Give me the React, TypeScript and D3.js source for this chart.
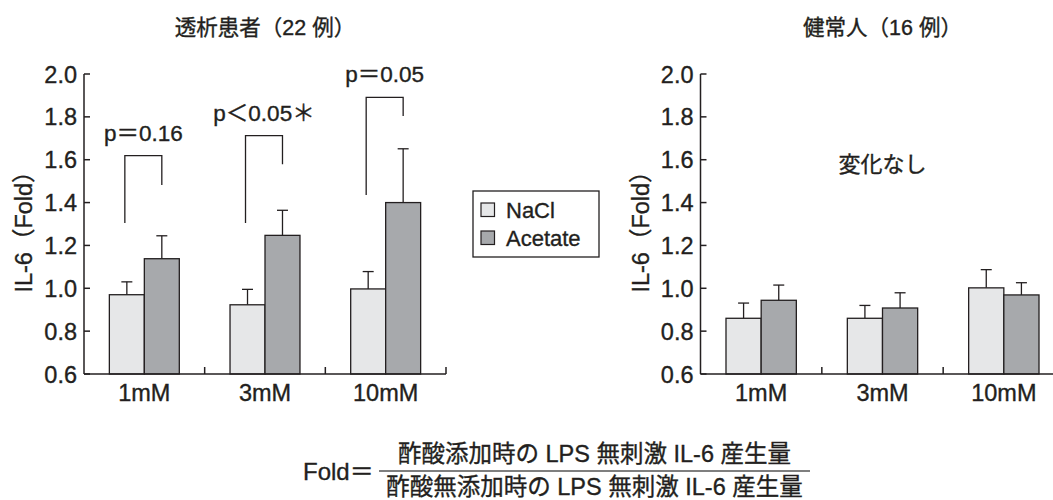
import * as d3 from "d3";

// categories and series
const doses = ["1mM", "3mM", "10mM"];
const seriesNames = ["NaCl", "Acetate"];
const seriesColors = ["#e6e7e8", "#a7a9ac"];

// 透析患者 (22例)
const patientNaCl = [0.97, 0.923, 0.997];
const patientNaClErr = [1.03, 0.995, 1.078];
const patientAcetate = [1.138, 1.247, 1.4];
const patientAcetateErr = [1.245, 1.364, 1.651];

// 健常人 (16例)
const healthyNaCl = [0.86, 0.86, 1.002];
const healthyNaClErr = [0.931, 0.92, 1.087];
const healthyAcetate = [0.944, 0.908, 0.969];
const healthyAcetateErr = [1.015, 0.979, 1.026];

// significance brackets (patients)
const pLabels = ["p＝0.16", "p＜0.05＊", "p＝0.05"];
const bracketTop = [1.619, 1.712, 1.891];
const bracketLeftEnd = [1.305, 1.305, 1.435];
const bracketRightEnd = [1.482, 1.579, 1.804];

const yTicks = [0.6, 0.8, 1.0, 1.2, 1.4, 1.6, 1.8, 2.0];

const FONT = "'Liberation Sans', Arial, 'Noto Sans CJK JP', sans-serif";
const INK = "#231f20";

const yScale = d3.scaleLinear().domain([0.6, 2.0]).range([374, 74]);

// slightly heavier text, like the printed figure
const txt = { fill: INK, stroke: INK, strokeWidth: 0.35 };

function Panel({ x0, x1, title, values, errors, brackets, note }) {
  const xScale = d3.scaleBand().domain(doses).range([x0, x1]).padding(0);
  const sub = d3
    .scaleBand()
    .domain(seriesNames)
    .range([0, xScale.bandwidth()])
    .paddingInner(0)
    .paddingOuter(0.725);
  const base = yScale(0.6);
  const cx = (x0 + x1) / 2;

  return (
    <g>
      <text x={cx} y={35} textAnchor="middle" fontSize={21.5} {...txt}>
        {title}
      </text>

      {/* bars */}
      {seriesNames.map((s, si) =>
        doses.map((d, di) => {
          const bx = xScale(d) + sub(s);
          const top = yScale(values[si][di]);
          const mid = bx + sub.bandwidth() / 2;
          const ey = yScale(errors[si][di]);
          return (
            <g key={s + d}>
              <line x1={mid} x2={mid} y1={top} y2={ey} stroke={INK} strokeWidth={1.3} />
              <line x1={mid - 5.5} x2={mid + 5.5} y1={ey} y2={ey} stroke={INK} strokeWidth={1.3} />
              <rect
                x={bx}
                y={top}
                width={sub.bandwidth()}
                height={base - top}
                fill={seriesColors[si]}
                stroke={INK}
                strokeWidth={1.3}
              />
            </g>
          );
        })
      )}

      {/* brackets */}
      {brackets &&
        doses.map((d, di) => {
          const lx = xScale(d) + sub(seriesNames[0]) + sub.bandwidth() / 2 - 2;
          const rx = xScale(d) + sub(seriesNames[1]) + sub.bandwidth() / 2;
          const ty = yScale(bracketTop[di]);
          return (
            <g key={"b" + d}>
              <path
                d={`M${lx},${yScale(bracketLeftEnd[di])}V${ty}H${rx}V${yScale(bracketRightEnd[di])}`}
                fill="none"
                stroke={INK}
                strokeWidth={1.3}
              />
              <text x={(lx + rx) / 2} y={ty - 15} textAnchor="middle" fontSize={22.5} {...txt}>
                {pLabels[di]}
              </text>
            </g>
          );
        })}

      {note && (
        <text x={cx} y={172} textAnchor="middle" fontSize={22} {...txt}>
          {note}
        </text>
      )}

      {/* y axis */}
      <line x1={x0} x2={x0} y1={yScale(2.0)} y2={base} stroke={INK} strokeWidth={1.5} />
      {yTicks.map((t) => (
        <g key={t}>
          <line x1={x0} x2={x0 + 6} y1={yScale(t)} y2={yScale(t)} stroke={INK} strokeWidth={1.5} />
          <text x={x0 - 7} y={yScale(t) + 8.5} textAnchor="end" fontSize={23.5} {...txt}>
            {t.toFixed(1)}
          </text>
        </g>
      ))}
      <text
        transform={`translate(${x0 - 52},${(yScale(2.0) + base) / 2 + 2}) rotate(-90)`}
        textAnchor="middle"
        fontSize={23.5}
        {...txt}
      >
        IL-6（Fold）
      </text>

      {/* x axis */}
      <line x1={x0} x2={x1} y1={base} y2={base} stroke={INK} strokeWidth={1.5} />
      {doses.map((d) => (
        <g key={"x" + d}>
          <line
            x1={xScale(d) + xScale.bandwidth()}
            x2={xScale(d) + xScale.bandwidth()}
            y1={base}
            y2={base - 7}
            stroke={INK}
            strokeWidth={1.5}
          />
          <text
            x={xScale(d) + xScale.bandwidth() / 2}
            y={401}
            textAnchor="middle"
            fontSize={23.5}
            {...txt}
          >
            {d}
          </text>
        </g>
      ))}
    </g>
  );
}

export default function App() {
  return (
    <svg
      width={1053}
      height={500}
      style={{ position: "absolute", left: 0, top: 0, background: "#fff" }}
      fontFamily={FONT}
    >
      <Panel
        x0={84}
        x1={446}
        title="透析患者（22 例）"
        values={[patientNaCl, patientAcetate]}
        errors={[patientNaClErr, patientAcetateErr]}
        brackets
      />
      <Panel
        x0={700.5}
        x1={1064.5}
        title="健常人（16 例）"
        values={[healthyNaCl, healthyAcetate]}
        errors={[healthyNaClErr, healthyAcetateErr]}
        note="変化なし"
      />

      {/* legend */}
      <rect x={473} y={191} width={126} height={66} fill="#fff" stroke={INK} strokeWidth={1.3} />
      {seriesNames.map((s, i) => (
        <g key={s} transform={`translate(481,${203 + i * 28})`}>
          <rect width={13.5} height={13.5} fill={seriesColors[i]} stroke={INK} strokeWidth={1.2} />
          <text x={25} y={14.5} fontSize={22} {...txt}>
            {s}
          </text>
        </g>
      ))}

      {/* formula */}
      <text x={303} y={480} fontSize={24} {...txt}>
        Fold＝
      </text>
      <line x1={379} x2={810} y1={471} y2={471} stroke="#555" strokeWidth={1.5} />
      <text x={594.5} y={461.5} textAnchor="middle" fontSize={23.5} {...txt}>
        酢酸添加時の LPS 無刺激 IL-6 産生量
      </text>
      <text x={594.5} y={495} textAnchor="middle" fontSize={23.5} {...txt}>
        酢酸無添加時の LPS 無刺激 IL-6 産生量
      </text>
    </svg>
  );
}
